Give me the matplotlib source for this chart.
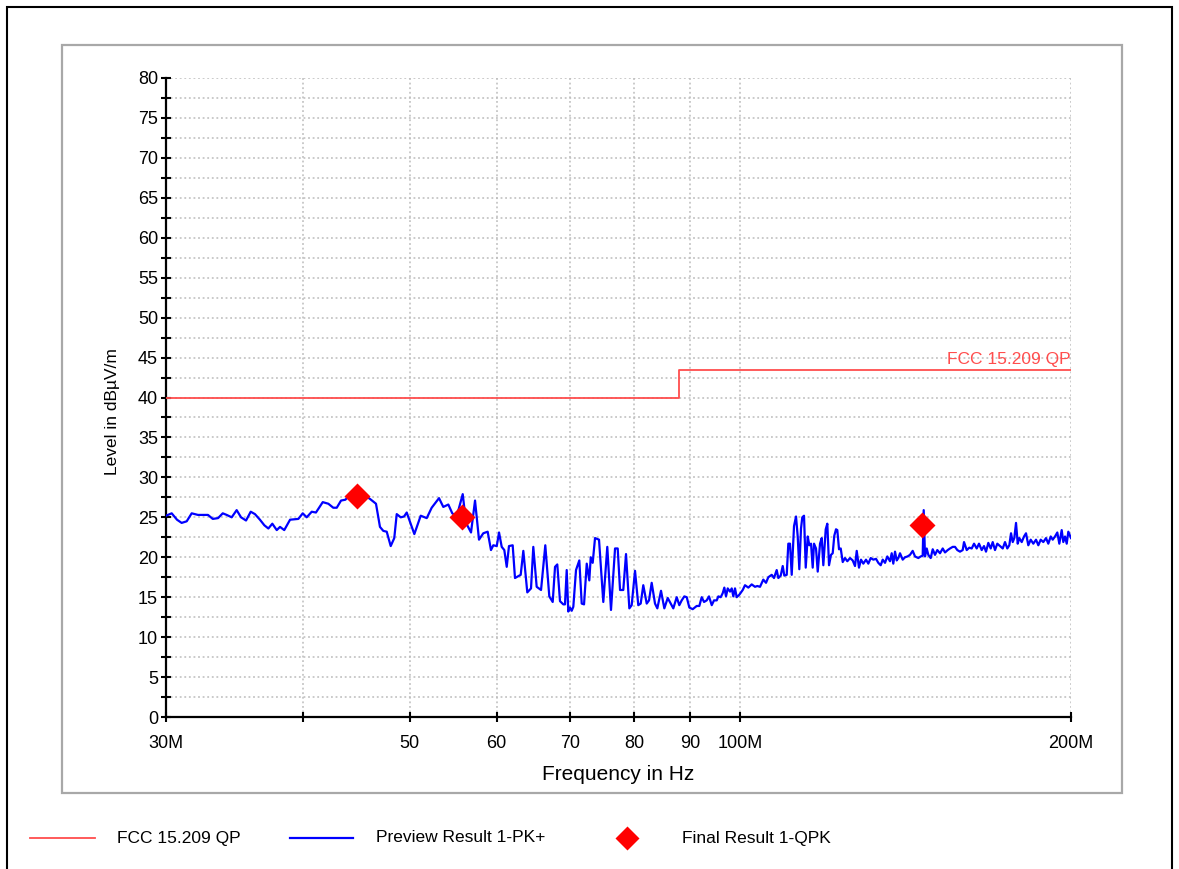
import matplotlib
matplotlib.use("Agg")
import matplotlib.pyplot as plt
from matplotlib.lines import Line2D
from matplotlib.patches import Rectangle

plt.rcParams['font.family'] = ['Liberation Sans', 'DejaVu Sans']

# limit line (MHz, dBuV/m)
limit_freq = [30, 88, 200]
limit_level = [40, 43.5, 43.5]

# preview scan, peak detector
scan_freq = [
    30.00, 30.36, 30.70, 31.00, 31.33, 31.66, 32.08, 32.76, 33.09, 33.46,
    33.79, 34.07, 34.43, 34.79, 35.11, 35.48, 35.83, 36.15, 36.53, 36.87,
    37.18, 37.49, 37.84, 38.10, 38.44, 38.91, 39.59, 39.96, 40.29, 40.72,
    41.08, 41.67, 42.16, 42.60, 42.91, 43.30, 43.69, 44.12, 44.77, 45.34,
    46.01, 46.59, 46.98, 47.31, 47.65, 48.05, 48.41, 48.66, 49.07, 49.41,
    49.69, 50.49, 51.17, 51.82, 52.36, 53.17, 53.65, 54.22, 54.67, 55.18,
    55.88, 56.27, 56.86, 57.34, 57.82, 58.34, 58.88, 59.29, 59.58, 60.01,
    60.30, 60.64, 60.97, 61.28, 61.57, 62.05, 62.35, 63.10, 63.45, 63.98,
    64.48, 64.79, 65.25, 65.85, 66.44, 67.00, 67.48, 67.81, 68.13, 68.52,
    69.00, 69.24, 69.49, 69.72, 69.97, 70.22, 70.46, 70.86, 71.35, 71.71,
    72.06, 72.47, 72.86, 73.08, 73.38, 73.74, 74.36, 75.03, 75.66, 76.25,
    76.90, 77.33, 77.71, 78.24, 78.69, 79.24, 79.63, 80.19, 80.74, 81.15,
    81.59, 82.18, 82.58, 83.04, 83.62, 84.03, 84.68, 85.27, 85.88, 86.42,
    86.89, 87.51, 87.99, 88.43, 88.92, 89.37, 89.86, 90.50, 91.26, 91.76,
    92.22, 92.67, 93.19, 93.64, 94.18, 94.63, 95.17, 95.49, 95.97, 96.37,
    96.70, 97.04, 97.39, 97.86, 98.21, 98.54, 98.89, 99.24, 99.78, 100.50,
    100.98, 101.69, 102.41, 103.12, 103.62, 104.21, 104.93, 105.53, 106.04, 106.80,
    107.31, 107.92, 108.29, 108.83, 109.29, 109.66, 110.21, 110.58, 110.97, 111.37,
    111.91, 112.38, 112.78, 113.16, 113.56, 113.87, 114.28, 114.69, 115.17, 115.56,
    115.97, 116.38, 116.70, 117.19, 117.61, 118.18, 118.60, 119.00, 119.60, 120.00,
    120.43, 120.93, 121.36, 121.77, 122.21, 122.54, 122.98, 123.42, 123.94, 124.53,
    125.14, 125.85, 126.56, 127.17, 127.63, 128.24, 128.78, 129.41, 130.14, 130.77,
    131.43, 132.15, 132.90, 133.54, 134.21, 134.78, 135.43, 136.08, 136.85, 137.34,
    137.80, 138.30, 138.79, 139.26, 139.75, 140.55, 141.23, 141.97, 142.71, 143.52,
    144.22, 145.22, 145.95, 146.56, 146.87, 147.27, 147.80, 148.30, 149.04, 149.67,
    150.39, 151.12, 151.98, 152.84, 153.58, 154.45, 155.20, 156.08, 156.83, 157.59,
    158.48, 159.38, 159.82, 160.73, 161.60, 162.42, 163.21, 164.13, 164.92, 165.86,
    166.66, 167.36, 168.17, 169.02, 169.73, 170.55, 171.37, 172.35, 173.33, 174.16,
    175.00, 175.74, 176.37, 177.00, 177.59, 178.23, 178.86, 179.46, 180.37, 181.24,
    182.00, 182.88, 183.80, 184.81, 185.86, 186.76, 187.70, 188.72, 189.79, 190.71,
    191.67, 192.48, 193.41, 194.34, 195.16, 196.14, 196.80, 197.51, 198.21, 198.88,
    200.00,
]
scan_level = [
    25.2, 25.5, 24.7, 24.3, 24.5, 25.5, 25.3, 25.3, 24.8, 24.9,
    25.5, 25.3, 25.0, 25.9, 25.0, 24.6, 25.7, 25.4, 24.7, 24.0,
    23.6, 24.2, 23.4, 23.8, 23.4, 24.7, 24.8, 25.5, 25.0, 25.7,
    25.6, 26.9, 26.7, 26.2, 26.2, 27.1, 27.2, 27.8, 27.9, 27.9,
    27.3, 26.7, 23.8, 23.3, 23.2, 21.4, 22.4, 25.4, 25.0, 25.1,
    25.6, 22.9, 25.2, 24.9, 26.2, 27.4, 26.3, 26.6, 25.5, 25.1,
    27.9, 24.3, 23.1, 27.1, 22.2, 23.0, 23.2, 20.9, 21.5, 21.4,
    23.1, 21.3, 20.9, 18.8, 21.4, 21.5, 17.4, 17.8, 20.8, 15.6,
    16.1, 21.3, 16.3, 15.9, 21.5, 15.1, 14.4, 18.8, 19.1, 14.5,
    14.1, 14.1, 18.4, 13.2, 13.7, 13.3, 13.8, 18.4, 19.6, 14.2,
    14.1, 19.2, 17.1, 20.0, 19.3, 22.4, 22.2, 14.4, 21.3, 13.4,
    21.1, 21.1, 15.9, 15.9, 20.4, 13.6, 14.0, 18.3, 14.0, 14.2,
    16.5, 14.2, 14.6, 16.8, 14.2, 13.6, 15.8, 13.6, 14.9, 14.2,
    13.6, 15.0, 14.0, 14.6, 15.1, 15.0, 13.7, 13.5, 13.9, 13.9,
    15.0, 14.4, 14.6, 15.1, 14.0, 14.6, 14.6, 15.1, 15.0, 15.5,
    16.2, 15.1, 16.1, 15.7, 16.1, 15.1, 16.1, 15.0, 15.3, 15.9,
    16.5, 16.2, 16.6, 16.3, 16.4, 16.3, 17.2, 16.8, 17.5, 17.8,
    17.4, 18.4, 17.4, 17.7, 18.9, 17.7, 17.8, 21.7, 21.7, 17.8,
    23.9, 25.1, 22.6, 18.5, 23.6, 25.0, 25.2, 18.7, 22.6, 21.5,
    21.7, 18.7, 21.7, 21.1, 18.2, 21.7, 22.4, 19.0, 23.5, 24.2,
    19.0, 20.3, 20.5, 22.7, 23.5, 23.4, 21.0, 21.1, 19.4, 19.9,
    19.5, 19.9, 19.6, 18.9, 20.8, 18.7, 19.7, 19.2, 19.7, 19.2,
    19.9, 19.7, 19.8, 19.3, 19.0, 19.7, 19.3, 20.1, 19.5, 20.5,
    19.2, 20.7, 19.6, 19.9, 20.5, 19.7, 20.0, 20.1, 20.3, 20.8,
    20.1, 19.9, 20.1, 20.2, 25.9, 20.1, 21.1, 20.3, 19.9, 21.0,
    20.3, 20.9, 20.5, 21.1, 20.6, 20.9, 21.1, 21.3, 21.3, 20.9,
    20.7, 20.9, 21.9, 20.9, 21.2, 21.1, 21.7, 21.1, 21.7, 20.9,
    21.4, 20.7, 21.8, 21.1, 21.9, 20.9, 21.7, 21.4, 21.1, 21.9,
    21.1, 21.5, 23.0, 21.9, 22.4, 24.3, 21.7, 22.4, 21.9, 22.6,
    23.0, 21.5, 22.2, 21.7, 22.2, 21.5, 22.2, 21.9, 22.4, 21.7,
    22.6, 22.2, 22.6, 23.1, 21.7, 23.4, 21.9, 22.6, 21.7, 23.2,
    22.4,
]

# final measurements, quasi-peak detector
final_freq = [44.77, 55.83, 146.3]
final_level = [27.7, 25.1, 24.0]

x_ticks = [30, 40, 50, 60, 70, 80, 90, 100, 200]
x_tick_labels = ['30M', '', '50', '60', '70', '80', '90', '100M', '200M']

limit_color = '#ff4d4d'
W, H = 1179, 869

fig = plt.figure(figsize=(W / 100, H / 100), dpi=100)
ax = fig.add_axes([166 / W, 1 - 717 / H, (1071 - 166) / W, (717 - 78) / H])

ax.plot(limit_freq, limit_level, drawstyle='steps-post', color=limit_color, lw=1.3, zorder=3)
ax.plot(scan_freq, scan_level, color='#0000ff', lw=1.6, zorder=4)
ax.plot(final_freq, final_level, ls='none', marker='D', ms=13.5, color='#ff0000', mec='none', zorder=5)
ax.text(200, limit_level[-1] + 0.3, 'FCC 15.209 QP', color=limit_color, fontsize=12.5,
        ha='right', va='bottom')

ax.set_xscale('log')
ax.set_xlim(30, 200)
ax.set_ylim(0, 80)
ax.set_xticks(x_ticks)
ax.set_xticklabels(x_tick_labels)
ax.xaxis.set_minor_locator(matplotlib.ticker.NullLocator())
ax.set_yticks(range(0, 81, 5))
ax.set_yticks([v + 2.5 for v in range(0, 80, 5)], minor=True)

ax.grid(True, which='both', color='#bcbcbc', ls=(0, (1.2, 1.8)), lw=1.1)
ax.set_axisbelow(True)
for side in ('top', 'right'):
    ax.spines[side].set_visible(False)
for side in ('left', 'bottom'):
    ax.spines[side].set_linewidth(1.6)
ax.tick_params(which='both', direction='inout', length=7.5, width=1.5, labelsize=13)
ax.tick_params(axis='x', pad=9)
ax.tick_params(axis='y', pad=2)

fig.text(112 / W, 1 - 412 / H, 'Level in dB\u00b5V/m', rotation=90, fontsize=12.5,
         ha='center', va='center')
fig.text(618 / W, 1 - 775 / H, 'Frequency in Hz', fontsize=15, ha='center', va='center')

# frames
fig.add_artist(Rectangle((62 / W, 1 - 793 / H), (1122 - 62) / W, (793 - 45) / H,
                         transform=fig.transFigure, fill=False, ec='#a8a8a8', lw=1.6))
fig.add_artist(Rectangle((7 / W, -0.05), (1172 - 7) / W, 1.05 - 7 / H,
                         transform=fig.transFigure, fill=False, ec='black', lw=1.5))

# legend row
ly = 1 - 838 / H
fig.add_artist(Line2D([30 / W, 95 / W], [ly, ly], transform=fig.transFigure, color=limit_color, lw=1.3))
fig.text(117 / W, ly, 'FCC 15.209 QP', fontsize=12.5, va='center')
fig.add_artist(Line2D([290 / W, 353 / W], [ly, ly], transform=fig.transFigure, color='#0000ff', lw=1.6))
fig.text(376 / W, ly, 'Preview Result 1-PK+', fontsize=12.5, va='center')
fig.add_artist(Line2D([627 / W], [ly], transform=fig.transFigure, ls='none', marker='D', ms=12.5,
                      color='#ff0000', mec='none'))
fig.text(682 / W, ly, 'Final Result 1-QPK', fontsize=12.5, va='center')

fig.savefig('out.png', dpi=100)
